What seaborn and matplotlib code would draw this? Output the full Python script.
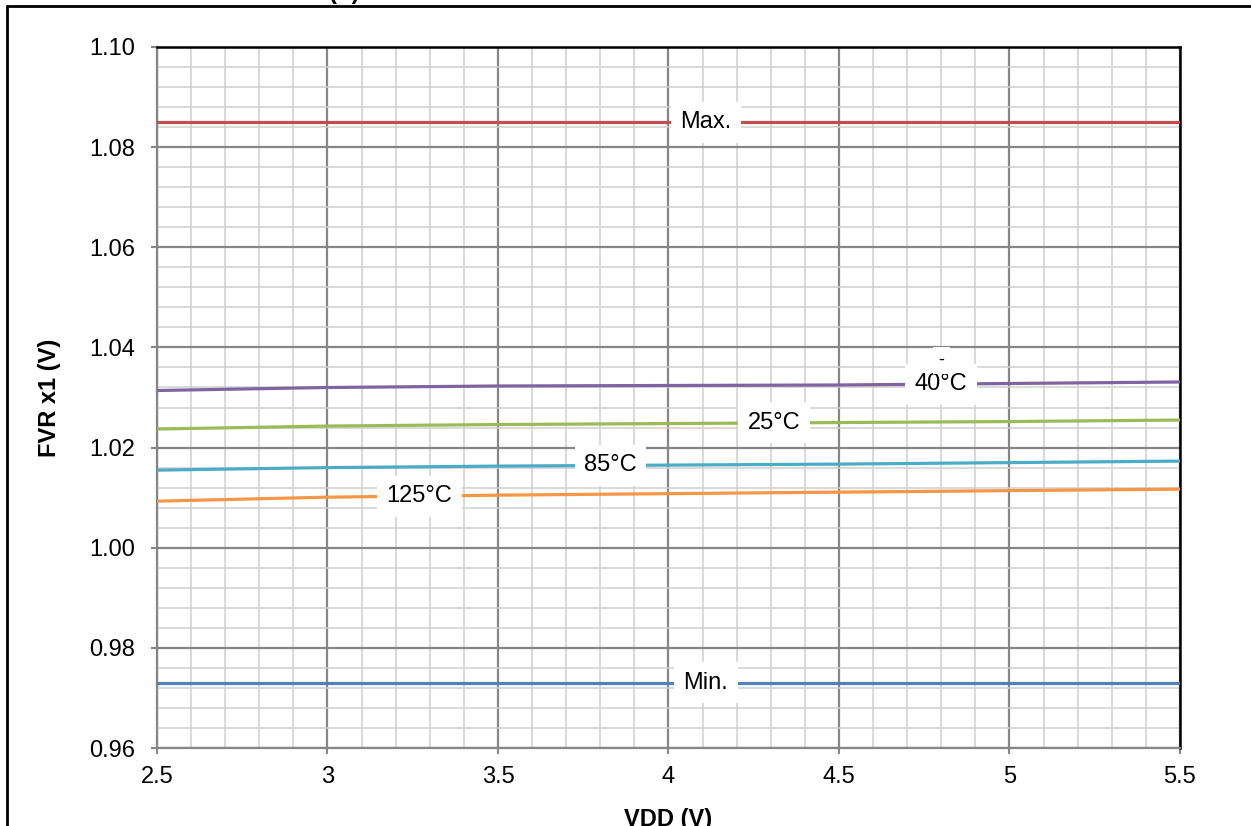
import numpy as np
import pandas as pd
import matplotlib
matplotlib.use('Agg')
import matplotlib.pyplot as plt
from matplotlib.ticker import MultipleLocator
from matplotlib.lines import Line2D
import seaborn as sns

# Data
vdd = [2.5, 3.0, 3.5, 4.0, 4.5, 5.0, 5.5]
fvr_max = [1.085] * 7
fvr_m40 = [1.0314, 1.0320, 1.0323, 1.0324, 1.0325, 1.0328, 1.0331]
fvr_25 = [1.0237, 1.0243, 1.0246, 1.0248, 1.0250, 1.0252, 1.0255]
fvr_85 = [1.0155, 1.0160, 1.0163, 1.0165, 1.0167, 1.0170, 1.0173]
fvr_125 = [1.0093, 1.0101, 1.0105, 1.0108, 1.0111, 1.0114, 1.0117]
fvr_min = [0.973] * 7

series_names = ['Max.', '-40°C', '25°C', '85°C', '125°C', 'Min.']
series_vals = [fvr_max, fvr_m40, fvr_25, fvr_85, fvr_125, fvr_min]
colors = ['#C0504D', '#8064A2', '#9BBB59', '#4BACC6', '#F79646', '#4F81BD']

# where the inline labels sit (x position on each curve)
label_x = [4.11, 4.80, 4.31, 3.83, 3.27, 4.11]
label_text = ['Max.', '40°C', '25°C', '85°C', '125°C', 'Min.']

x_ticks = [2.5, 3.0, 3.5, 4.0, 4.5, 5.0, 5.5]
x_ticklabels = ['2.5', '3', '3.5', '4', '4.5', '5', '5.5']
y_ticks = [0.96, 0.98, 1.00, 1.02, 1.04, 1.06, 1.08, 1.10]
y_ticklabels = ['0.96', '0.98', '1.00', '1.02', '1.04', '1.06', '1.08', '1.10']

df = pd.concat([pd.DataFrame({'VDD': vdd, 'FVR': v, 'series': n})
                for n, v in zip(series_names, series_vals)])

sns.set_style('white')
plt.rcParams['font.family'] = ['Liberation Sans', 'DejaVu Sans']
plt.rcParams['text.color'] = 'black'
plt.rcParams['axes.labelcolor'] = 'black'
plt.rcParams['xtick.labelcolor'] = 'black'
plt.rcParams['ytick.labelcolor'] = 'black'

fig = plt.figure(figsize=(12.51, 8.26), dpi=100)
ax = fig.add_axes([0.1255, 0.0944, 0.8177, 0.8487])

sns.lineplot(data=df, x='VDD', y='FVR', hue='series', hue_order=series_names,
             palette=colors, linewidth=2.3, legend=False, ax=ax, zorder=3)

ax.set_xlim(2.5, 5.5)
ax.set_ylim(0.96, 1.10)
ax.set_xticks(x_ticks)
ax.set_xticklabels(x_ticklabels)
ax.set_yticks(y_ticks)
ax.set_yticklabels(y_ticklabels)
ax.xaxis.set_minor_locator(MultipleLocator(0.1))
ax.yaxis.set_minor_locator(MultipleLocator(0.004))

ax.grid(which='minor', color='#D0D0D0', linewidth=1.1, zorder=0)
ax.grid(which='major', color='#868686', linewidth=1.6, zorder=1)
ax.set_axisbelow(True)

ax.tick_params(axis='both', which='major', direction='out', length=4, width=1.5,
               color='#868686', labelsize=17, labelcolor='black', left=True, bottom=True)
ax.tick_params(axis='y', which='major', pad=12)
ax.tick_params(axis='x', which='major', pad=9)
ax.tick_params(which='minor', length=0)

for side in ['left', 'bottom']:
    ax.spines[side].set_color('#868686')
    ax.spines[side].set_linewidth(1.6)
for side in ['top', 'right']:
    ax.spines[side].set_color('black')
    ax.spines[side].set_linewidth(1.8)

ax.set_xlabel('VDD (V)', fontsize=17, fontweight='bold', labelpad=14, color='black')
ax.set_ylabel('FVR x1 (V)', fontsize=17, fontweight='bold', labelpad=20, color='black')

# inline labels on the curves
box = dict(boxstyle='square,pad=0.4', facecolor='white', edgecolor='none')
for vals, lx, txt in zip(series_vals, label_x, label_text):
    ly = np.interp(lx, vdd, vals)
    ax.text(lx, ly, txt, ha='center', va='center', fontsize=17, color='black',
            zorder=5, bbox=box)
    if txt == '40°C':
        # the minus sign of -40°C wrapped onto its own line above
        ax.annotate('-', (lx, ly), xytext=(0, 17), textcoords='offset points',
                    ha='center', va='center', fontsize=13, color='black', zorder=6,
                    bbox=dict(boxstyle='square,pad=0.3', facecolor='white', edgecolor='none'))

# outer frame of the original (cropped) figure and cut-off title
fig.add_artist(Line2D([7 / 1251, 7 / 1251], [0, 1 - 6 / 826], color='black', linewidth=2))
fig.add_artist(Line2D([7 / 1251, 1], [1 - 6 / 826, 1 - 6 / 826], color='black', linewidth=2))
fig.text(0.263, 1 - 4 / 826, '(V)', fontsize=17, fontweight='bold', va='bottom')

fig.savefig('out.png', dpi=100)
